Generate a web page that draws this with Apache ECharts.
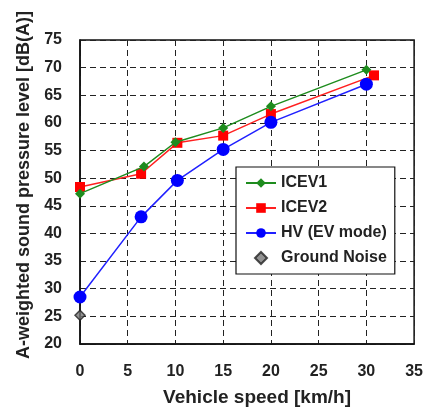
<!DOCTYPE html>
<html><head><meta charset="utf-8">
<script src="https://cdn.jsdelivr.net/npm/echarts@6/dist/echarts.min.js"></script>
<style>html,body{margin:0;padding:0;background:#fff}#c{width:426px;height:412px}</style>
</head><body><div id="c"></div>
<script>
const icev1X = [0, 6.7, 10, 15, 20, 30];
const icev1Y = [47.2, 52.1, 56.5, 59.1, 63.0, 69.6];
const icev2X = [0, 6.4, 10.2, 15, 20, 30.8];
const icev2Y = [48.4, 50.8, 56.4, 57.7, 61.6, 68.6];
const hvX = [0, 6.4, 10.2, 15, 20, 30];
const hvY = [28.5, 43.0, 49.6, 55.2, 60.1, 67.0];
const noiseX = [0];
const noiseY = [25.2];
const xTicks = [0, 5, 10, 15, 20, 25, 30, 35];
const yTicks = [20, 25, 30, 35, 40, 45, 50, 55, 60, 65, 70, 75];

const zip = (a, b) => a.map((v, i) => [v, b[i]]);
const font = 'Liberation Sans, Arial, sans-serif';
const chart = echarts.init(document.getElementById('c'));
chart.setOption({
  animation: false,
  backgroundColor: '#fff',
  grid: {left: 80, right: 11, top: 40, bottom: 64, show: true, borderColor: '#111', borderWidth: 1.5, backgroundColor: 'transparent'},
  xAxis: {
    type: 'value', min: xTicks[0], max: xTicks[xTicks.length - 1], interval: 5,
    name: 'Vehicle speed [km/h]', nameLocation: 'middle', nameGap: 44,
    nameTextStyle: {fontFamily: font, fontWeight: 'bold', fontSize: 19, color: '#222', padding: [0, 0, 0, 20]},
    axisLine: {show: true, lineStyle: {color: '#111', width: 1.5}},
    axisTick: {show: false},
    axisLabel: {margin: 20, fontFamily: font, fontWeight: 'bold', fontSize: 16, color: '#222'},
    splitLine: {show: true, lineStyle: {color: '#222', type: [6, 4], width: 1}}
  },
  yAxis: {
    type: 'value', min: yTicks[0], max: yTicks[yTicks.length - 1], interval: 5,
    name: 'A-weighted sound pressure level [dB(A)]', nameLocation: 'middle', nameGap: 45,
    nameTextStyle: {fontFamily: font, fontWeight: 'bold', fontSize: 18, color: '#222', padding: [0, 0, 0, 14]},
    axisLine: {show: true, lineStyle: {color: '#111', width: 1.5}},
    axisTick: {show: false},
    axisLabel: {margin: 18, fontFamily: font, fontWeight: 'bold', fontSize: 16, color: '#222'},
    splitLine: {show: true, lineStyle: {color: '#222', type: [6, 4], width: 1}}
  },
  legend: {
    orient: 'vertical', left: 236, top: 167, width: 162,
    backgroundColor: '#fff', borderColor: '#111', borderWidth: 1.2,
    padding: [8, 8, 8, 9], itemGap: 9, itemWidth: 30, itemHeight: 12,
    textStyle: {fontFamily: font, fontWeight: 'bold', fontSize: 16, color: '#222'},
    data: ['ICEV1', 'ICEV2', 'HV (EV mode)',
           {name: 'Ground Noise', icon: 'path://M5,0L10,5L5,10L0,5Z'}]
  },
  series: [
    {name: 'ICEV1', type: 'line', data: zip(icev1X, icev1Y), symbol: 'diamond', symbolSize: 10,
     itemStyle: {color: '#1e8c1e'}, lineStyle: {color: '#1e8c1e', width: 1.5}, z: 3},
    {name: 'ICEV2', type: 'line', data: zip(icev2X, icev2Y), symbol: 'rect', symbolSize: 10,
     itemStyle: {color: '#ff0000'}, lineStyle: {color: '#ff2020', width: 1.5}, z: 2},
    {name: 'HV (EV mode)', type: 'line', data: zip(hvX, hvY), symbol: 'circle', symbolSize: 13,
     itemStyle: {color: '#0000ff'}, lineStyle: {color: '#2020ff', width: 1.5}, z: 4},
    {name: 'Ground Noise', type: 'scatter', data: zip(noiseX, noiseY), symbol: 'diamond', symbolSize: 10,
     itemStyle: {color: '#777', borderColor: '#222', borderWidth: 1.5}, z: 5}
  ]
});
</script></body></html>
